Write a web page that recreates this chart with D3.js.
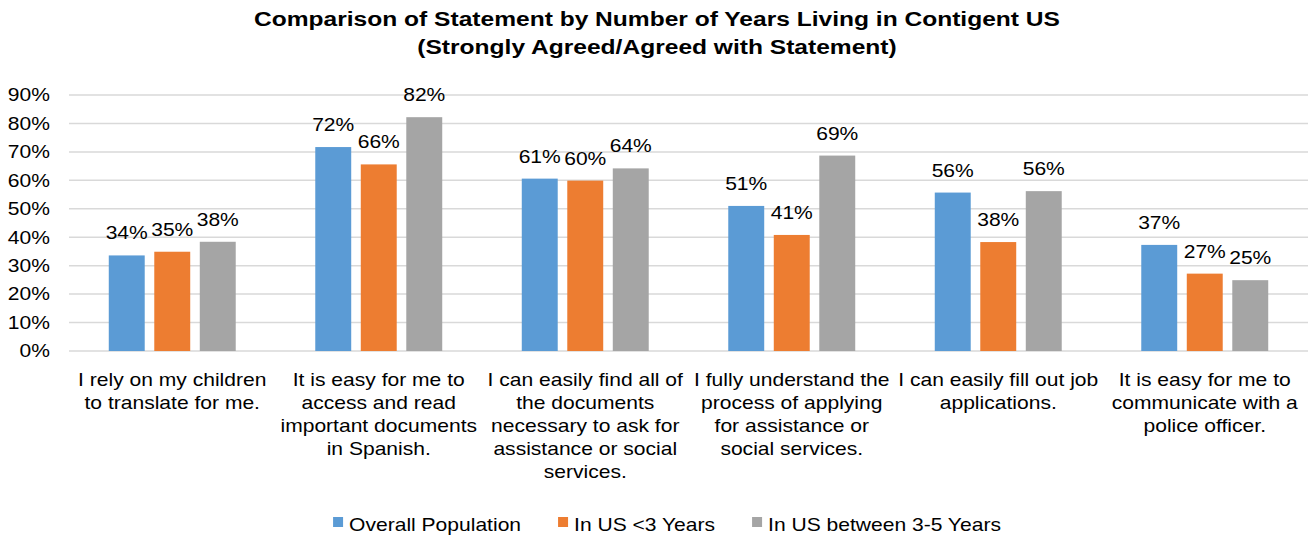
<!DOCTYPE html>
<html>
<head>
<meta charset="utf-8">
<script src="https://cdn.jsdelivr.net/npm/d3@7"></script>
<style>
  body { margin: 0; background: #fff; }
  text { font-family: "Liberation Sans", Arial, sans-serif; fill: #000; }
</style>
</head>
<body>
<div id="chart"></div>
<script>
// category labels, already wrapped the way the original shows them
const categoryLines = [
    ["I rely on my children", "to translate for me."],
    ["It is easy for me to", "access and read", "important documents", "in Spanish."],
    ["I can easily find all of", "the documents", "necessary to ask for", "assistance or social", "services."],
    ["I fully understand the", "process of applying", "for assistance or", "social services."],
    ["I can easily fill out job", "applications."],
    ["It is easy for me to", "communicate with a", "police officer."]
];
const categories = categoryLines.map(l => l.join(" "));

const seriesNames = ["Overall Population", "In US <3 Years", "In US between 3-5 Years"];
const overall = [0.336, 0.717, 0.606, 0.51, 0.557, 0.373];
const under3 = [0.349, 0.656, 0.599, 0.408, 0.383, 0.272];
const between3to5 = [0.384, 0.822, 0.642, 0.687, 0.562, 0.249];
const colors = ["#5B9BD5", "#ED7D31", "#A5A5A5"];
const yTicks = [0, 0.1, 0.2, 0.3, 0.4, 0.5, 0.6, 0.7, 0.8, 0.9];

const titleLines = ["Comparison of Statement by Number of Years Living in Contigent US",
    "(Strongly Agreed/Agreed with Statement)"];

// the original is a bit wider than tall, so draw in a narrower space and stretch it
const sx = 1.17;
const w = 1314, h = 535;
const W = w / sx;

let svg = d3.select("#chart")
    .append("svg")
    .attr("width", w)
    .attr("height", h)
    .attr("viewBox", `0 0 ${W} ${h}`)
    .attr("preserveAspectRatio", "none");

// plot edges in screen pixels
let plotLeft = 69, plotRight = 1308, plotTop = 95, plotBottom = 351;

let y = d3.scaleLinear()
    .domain([0, 0.9])
    .range([plotBottom, plotTop]);

let x0 = d3.scaleBand()
    .domain(categories)
    .range([plotLeft / sx, plotRight / sx]);

let x1 = d3.scaleBand()
    .domain(seriesNames)
    .range([0, x0.bandwidth()])
    .paddingInner(0.21)
    .paddingOuter(0.874);

// title
svg.append("g").selectAll("text")
    .data(titleLines)
    .enter()
    .append("text")
    .attr("x", 657 / sx)
    .attr("y", (d, i) => 26 + i * 28.5)
    .attr("text-anchor", "middle")
    .style("font-size", "21px")
    .style("font-weight", "bold")
    .text(d => d);

// gridlines
svg.append("g").selectAll("line")
    .data(yTicks)
    .enter()
    .append("line")
    .attr("x1", plotLeft / sx).attr("x2", plotRight / sx)
    .attr("y1", d => y(d)).attr("y2", d => y(d))
    .style("stroke", "#d9d9d9")
    .style("stroke-width", 1.5);

// y axis labels
svg.append("g").selectAll("text")
    .data(yTicks)
    .enter()
    .append("text")
    .attr("x", 50 / sx)
    .attr("y", d => y(d))
    .attr("dy", "0.35em")
    .attr("text-anchor", "end")
    .style("font-size", "18px")
    .text(d3.format(".0%"));

// bars
const rows = categories.map((c, i) => ({
    cat: c,
    vals: [overall[i], under3[i], between3to5[i]].map((v, j) => ({ key: seriesNames[j], v: v, color: colors[j] }))
}));

const groups = svg.append("g").selectAll("g")
    .data(rows)
    .enter()
    .append("g")
    .attr("transform", d => `translate(${x0(d.cat)},0)`);

groups.selectAll("rect")
    .data(d => d.vals)
    .enter()
    .append("rect")
    .attr("x", d => x1(d.key))
    .attr("width", x1.bandwidth())
    .attr("y", d => y(d.v))
    .attr("height", d => y(0) - y(d.v))
    .style("fill", d => d.color);

groups.selectAll("text")
    .data(d => d.vals)
    .enter()
    .append("text")
    .attr("x", d => x1(d.key) + x1.bandwidth() / 2)
    .attr("y", d => y(d.v) - 16)
    .attr("text-anchor", "middle")
    .style("font-size", "18px")
    .text(d => d3.format(".0%")(d.v));

// category labels
const catLabels = svg.append("g").selectAll("text")
    .data(rows)
    .enter()
    .append("text")
    .attr("text-anchor", "middle")
    .style("font-size", "18px");

catLabels.selectAll("tspan")
    .data((d, i) => categoryLines[i].map(t => ({ t: t, cx: x0(d.cat) + x0.bandwidth() / 2 })))
    .enter()
    .append("tspan")
    .attr("x", d => d.cx)
    .attr("y", (d, i) => 386 + i * 23)
    .text(d => d.t);

// legend, laid out left to right then centred
const legend = svg.append("g");
let pos = 0;
seriesNames.forEach((name, i) => {
    legend.append("rect")
        .attr("x", pos)
        .attr("y", 517)
        .attr("width", 10 / sx)
        .attr("height", 10)
        .style("fill", colors[i]);
    let t = legend.append("text")
        .attr("x", pos + 16 / sx)
        .attr("y", 531)
        .style("font-size", "18px")
        .text(name);
    pos += 16 / sx + t.node().getComputedTextLength() + 37 / sx;
});
pos -= 37 / sx;
legend.attr("transform", `translate(${667 / sx - pos / 2},0)`);
</script>
</body>
</html>
